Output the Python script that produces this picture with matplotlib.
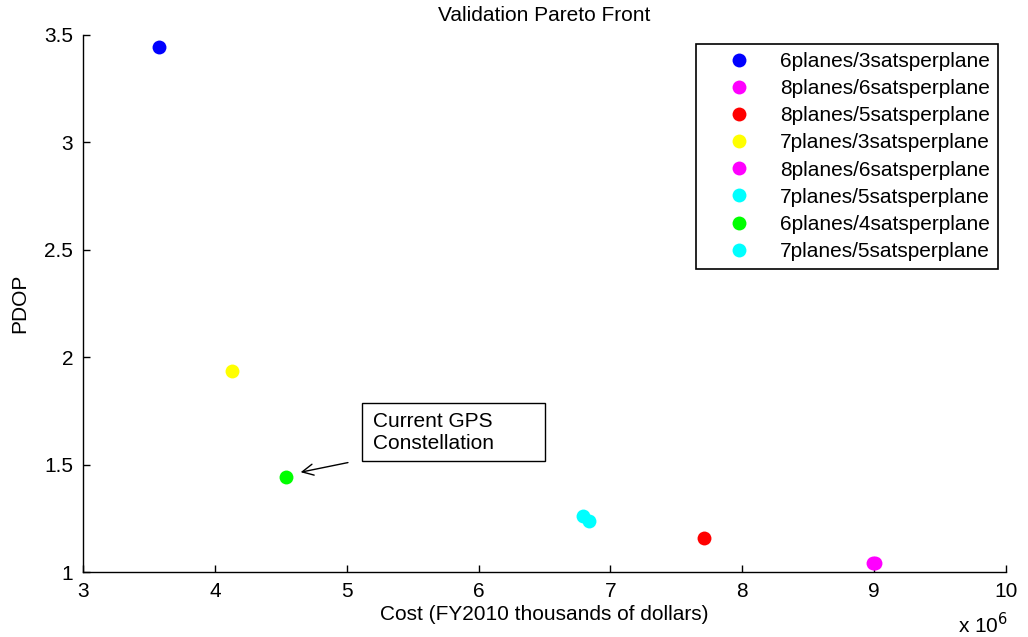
import matplotlib
matplotlib.use("Agg")
import matplotlib.pyplot as plt
from matplotlib.patches import Rectangle

plt.rcParams['font.family'] = ['Liberation Sans', 'DejaVu Sans']

labels = ["6planes/3satsperplane", "8planes/6satsperplane", "8planes/5satsperplane",
          "7planes/3satsperplane", "8planes/6satsperplane", "7planes/5satsperplane",
          "6planes/4satsperplane", "7planes/5satsperplane"]
cost = [3.58e6, 8.99e6, 7.71e6, 4.13e6, 9.01e6, 6.79e6, 4.54e6, 6.84e6]
pdop = [3.444, 1.042, 1.158, 1.934, 1.042, 1.260, 1.442, 1.237]
colors = ["#0000ff", "#ff00ff", "#ff0000", "#ffff00", "#ff00ff", "#00ffff", "#00ff00", "#00ffff"]
xticks = [3, 4, 5, 6, 7, 8, 9, 10]
yticks = [1, 1.5, 2, 2.5, 3, 3.5]

FS = 15

fig = plt.figure(figsize=(10.28, 6.37), dpi=100)
ax = fig.add_axes([83/1028, 65/637, 923/1028, 537/637])

handles = []
for c, p, col, lab in zip(cost, pdop, colors, labels):
    h, = ax.plot([c / 1e6], [p], 'o', color=col, markersize=10, markeredgewidth=0,
                 label=lab, clip_on=False)
    handles.append(h)

ax.set_xlim(3, 10)
ax.set_ylim(1, 3.5)
ax.set_xticks(xticks)
ax.set_yticks(yticks)
ax.set_xticklabels([str(t) for t in xticks])
ax.set_yticklabels(["1", "1.5", "2", "2.5", "3", "3.5"])
ax.tick_params(direction='in', length=5, labelsize=FS, width=1, pad=7)
ax.spines['top'].set_visible(False)
ax.spines['right'].set_visible(False)
ax.spines['left'].set_linewidth(1)
ax.spines['bottom'].set_linewidth(1)

ax.set_title("Validation Pareto Front", fontsize=FS, pad=10)
ax.set_xlabel("Cost (FY2010 thousands of dollars)", fontsize=FS, labelpad=3)
ax.set_ylabel("PDOP", fontsize=FS, labelpad=11)
fig.text(958/1028, 1 - 625/637, r"x 10$^{6}$", fontsize=FS, va='center', ha='left')

leg = ax.legend(handles=handles, loc='upper right', bbox_to_anchor=(0.991, 0.983),
                fontsize=FS, frameon=True, fancybox=False, edgecolor='black',
                framealpha=1, labelspacing=0.39, handlelength=3.4, handletextpad=0.25,
                borderpad=0.38, borderaxespad=0)
leg.get_frame().set_linewidth(1.2)

# annotation
ax.add_patch(Rectangle((5.115, 1.517), 1.385, 0.27, fill=False, edgecolor='black', linewidth=1))
ax.text(5.20, 1.65, "Current GPS\nConstellation", fontsize=FS, va='center', ha='left',
        linespacing=1.2)
ax.annotate("", xy=(4.63, 1.462), xytext=(5.03, 1.512),
            arrowprops=dict(arrowstyle='->', color='black', lw=1, mutation_scale=20))

fig.savefig("out.png", dpi=100)
